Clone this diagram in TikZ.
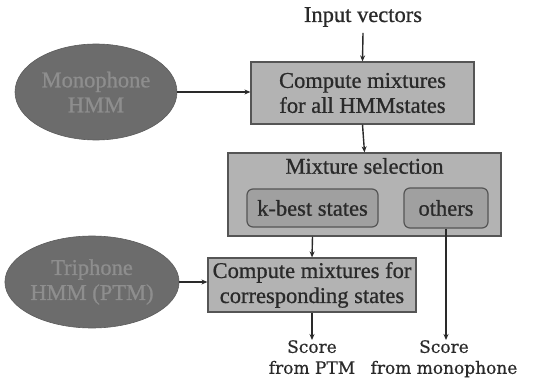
\documentclass[tikz,border=0pt]{standalone}
\usepackage{fontspec}
\setmainfont[FakeBold=0.8]{Liberation Serif}
\newfontfamily\scorefont[FakeBold=0.5]{DejaVu Serif}
\usetikzlibrary{arrows.meta,shapes.geometric,calc}

\definecolor{boxfill}{HTML}{B3B3B3}
\definecolor{innerfill}{HTML}{A0A0A0}
\definecolor{ovalfill}{HTML}{6C6C6C}
\definecolor{ovaltext}{HTML}{8E8E8E}
\definecolor{inkdark}{HTML}{2A2A2A}
\definecolor{edgegray}{HTML}{555555}

\tikzset{
  txt/.style={font=\fontsize{22.5}{25}\selectfont, text=inkdark, align=center, inner sep=0pt},
  procbox/.style={txt, draw=edgegray, line width=1.2pt, fill=boxfill},
  subbox/.style={txt, draw=edgegray, line width=1.2pt, fill=innerfill, rounded corners=6pt},
  model/.style={ellipse, fill=ovalfill, draw=ovalfill!85!black, line width=0.6pt,
    font=\fontsize{22.5}{25}\selectfont, text=ovaltext, align=center, inner sep=0pt},
  outtxt/.style={font=\scorefont\fontsize{17}{21}\selectfont, text=inkdark, align=center, inner sep=0pt},
  flow/.style={draw=inkdark, line width=1.4pt, -{Stealth[length=6pt,width=5pt]}}
}

\begin{document}
\begin{tikzpicture}[x=1pt, y=-1pt]
  \useasboundingbox (0,0) rectangle (546,385);

  % inputs and monophone front end
  \node[txt] (input) at (363,17) {Input vectors};
  \node[procbox, minimum width=223pt, minimum height=62pt] (allmix) at (362.5,93)
    {Compute mixtures\\for all HMMstates};
  \node[model, minimum width=162pt, minimum height=96pt] (mono) at (96,92)
    {Monophone\\HMM};

  % selection stage
  \node[procbox, minimum width=273pt, minimum height=83pt] (select) at (364.5,194.5) {};
  \node[txt] (seltitle) at (364.5,166) {Mixture selection};
  \node[subbox, minimum width=131pt, minimum height=38pt] (kbest) at (312.5,208) {k-best states};
  \node[subbox, minimum width=84pt, minimum height=40pt] (others) at (446,208) {others};

  % triphone back end
  \node[model, minimum width=162pt, minimum height=92pt] (tri) at (92,282)
    {Triphone\\HMM (PTM)};
  \node[procbox, minimum width=208pt, minimum height=54pt] (corr) at (312,285)
    {Compute mixtures for\\corresponding states};

  % outputs
  \node[outtxt, anchor=north] (ptm) at (312,340) {Score\\from PTM};
  \node[outtxt, anchor=north] (monoscore) at (444,340) {Score\\from monophone};

  % connectors
  \draw[flow] (input.south) ++(0,6) -- (allmix.north);
  \draw[flow] (mono.east) -- (mono.east -| allmix.west);
  \draw[flow] (allmix.south) -- (select.north);
  \coordinate (kfoot) at (kbest.south |- select.south);
  \coordinate (ofoot) at (others.south);
  \draw[flow] (kfoot) -- (corr.north);
  \draw[flow] (ofoot) -- (ofoot |- ptm.north);
  \draw[flow] (tri.east) -- (tri.east -| corr.west);
  \draw[flow] (corr.south) -- (ptm.north);
\end{tikzpicture}
\end{document}
